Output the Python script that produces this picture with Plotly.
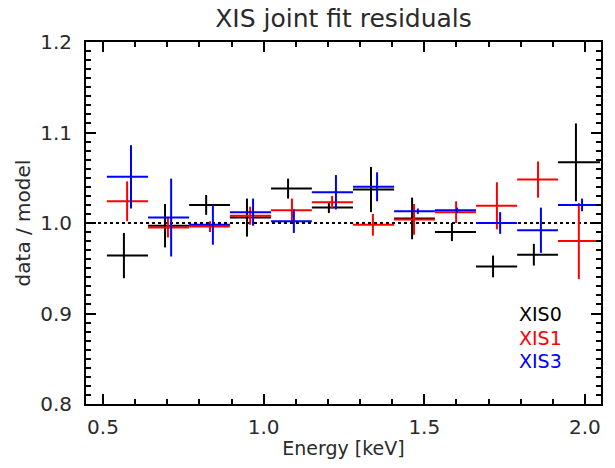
import plotly.graph_objects as go

# Energy bin edges [keV]
bin_lo = [0.512, 0.640, 0.768, 0.895, 1.023, 1.150, 1.278, 1.406, 1.533, 1.661, 1.789, 1.916]
bin_hi = [0.640, 0.768, 0.895, 1.023, 1.150, 1.278, 1.406, 1.533, 1.661, 1.789, 1.916, 2.047]

# XIS0 (black)
xis0_x = [0.565, 0.693, 0.821, 0.948, 1.076, 1.203, 1.334, 1.462, 1.586, 1.714, 1.841, 1.972]
xis0_y = [0.964, 0.997, 1.020, 1.006, 1.038, 1.017, 1.037, 1.005, 0.990, 0.952, 0.965, 1.067]
xis0_e = [0.025, 0.024, 0.011, 0.021, 0.011, 0.006, 0.025, 0.023, 0.010, 0.012, 0.012, 0.043]

# XIS1 (red)
xis1_x = [0.575, 0.702, 0.833, 0.958, 1.088, 1.213, 1.340, 1.468, 1.599, 1.726, 1.854, 1.981]
xis1_y = [1.024, 0.995, 0.996, 1.008, 1.014, 1.023, 0.998, 1.004, 1.012, 1.019, 1.048, 0.980]
xis1_e = [0.022, 0.011, 0.006, 0.010, 0.013, 0.007, 0.012, 0.017, 0.012, 0.026, 0.020, 0.042]

# XIS3 (blue)
xis3_x = [0.587, 0.712, 0.842, 0.967, 1.094, 1.225, 1.353, 1.480, 1.602, 1.736, 1.863, 1.991]
xis3_y = [1.051, 1.006, 0.998, 1.012, 1.002, 1.034, 1.040, 1.013, 1.014, 1.000, 0.992, 1.020]
xis3_e = [0.035, 0.043, 0.022, 0.015, 0.013, 0.019, 0.016, 0.003, 0.003, 0.012, 0.025, 0.007]

series = [
    ("XIS0", xis0_x, xis0_y, xis0_e, "#000000"),
    ("XIS1", xis1_x, xis1_y, xis1_e, "#ff0000"),
    ("XIS3", xis3_x, xis3_y, xis3_e, "#0000ff"),
]

FONT = "DejaVu Sans"
TXT = "#2a2a2a"
fig = go.Figure()

for name, xs, ys, es, col in series:
    plus = [h - x for h, x in zip(bin_hi, xs)]
    minus = [x - l for l, x in zip(bin_lo, xs)]
    fig.add_trace(go.Scatter(
        x=xs, y=ys, mode="markers", name=name,
        marker=dict(size=0.1, color=col),
        error_x=dict(type="data", symmetric=False, array=plus, arrayminus=minus,
                     color=col, thickness=2, width=0),
        error_y=dict(type="data", array=es, color=col, thickness=2, width=0),
        showlegend=False, cliponaxis=True,
    ))

fig.add_shape(type="line", xref="paper", yref="y", x0=0, x1=1, y0=1.0, y1=1.0,
              line=dict(color="black", width=2, dash="dot"), layer="below")

# legend labels, placed in the plot area (86..601 x 42..404 px)
for (name, _, _, _, col), py in zip(series, [314, 338, 361]):
    fig.add_annotation(x=(517 - 86) / (601 - 86), y=(404 - py) / (404 - 42),
                       xref="paper", yref="paper", xanchor="left", yanchor="middle",
                       text=name, showarrow=False,
                       font=dict(family=FONT, size=19, color=col))

axis_common = dict(
    showline=True, linecolor="black", linewidth=2, mirror="ticks",
    ticks="inside", tickcolor="black", tickwidth=2, ticklen=10,
    showgrid=False, zeroline=False,
    tickfont=dict(family=FONT, size=20, color=TXT),
)

fig.update_xaxes(range=[0.447, 2.05], tickvals=[0.5, 1.0, 1.5, 2.0],
                 ticktext=["0.5", "1.0", "1.5", "2.0"],
                 minor=dict(dtick=0.1, tick0=0.0, ticks="inside", ticklen=5,
                            tickwidth=2, tickcolor="black"),
                 ticklabelstandoff=4,
                 title=dict(text="Energy [keV]", font=dict(family=FONT, size=19, color=TXT),
                            standoff=4),
                 **axis_common)
fig.update_yaxes(range=[0.8, 1.2], tickvals=[0.8, 0.9, 1.0, 1.1, 1.2],
                 ticktext=["0.8", "0.9", "1.0", "1.1", "1.2"],
                 minor=dict(dtick=0.01, tick0=0.0, ticks="inside", ticklen=5,
                            tickwidth=2, tickcolor="black"),
                 ticklabelstandoff=8,
                 title=dict(text="data / model", font=dict(family=FONT, size=20, color=TXT),
                            standoff=4),
                 **axis_common)

fig.update_layout(
    width=615, height=468,
    margin=dict(l=86, r=14, t=42, b=64),
    paper_bgcolor="white", plot_bgcolor="white",
    title=dict(text="XIS joint fit residuals", x=(86 + 601) / 2 / 615, xanchor="center",
               y=1 - 18 / 468, yanchor="middle",
               font=dict(family=FONT, size=25, color=TXT)),
)

fig.write_html("out.html")
